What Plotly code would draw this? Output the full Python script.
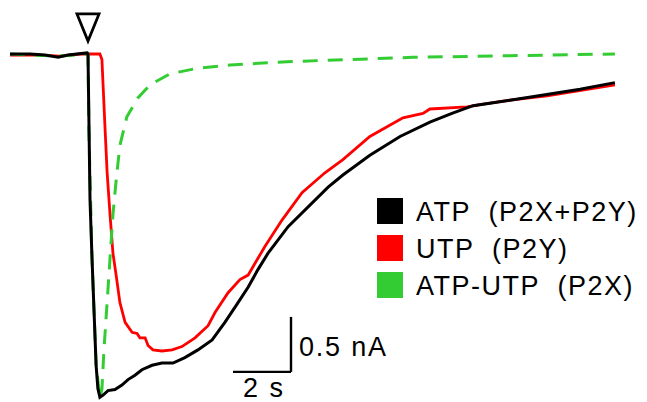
import plotly.graph_objects as go

# ---------------- data (time in s from ATP/UTP application, current in nA) ----------------
atp_t = [-2.69, -2.00, -1.48, -1.03, -0.69, -0.28, -0.03, 0.00, 0.03, 0.07, 0.14, 0.21, 0.28, 0.34,
         0.41, 0.52, 0.69, 0.93, 1.17, 1.38, 1.62, 1.86, 2.21, 2.55, 2.93, 3.34, 3.79, 4.28, 4.72,
         5.10, 5.52, 5.86, 6.21, 6.90, 7.59, 8.28, 8.79, 9.72, 10.76, 11.79, 12.55, 13.28, 14.55,
         15.83, 16.97, 18.17]
atp_i = [0.00, 0.00, -0.01, -0.03, -0.01, 0.00, 0.01, 0.00, -0.69, -1.33, -1.87, -2.42, -2.83, -3.04,
         -3.12, -3.10, -3.06, -3.05, -3.01, -2.96, -2.92, -2.87, -2.83, -2.81, -2.81, -2.76, -2.69,
         -2.60, -2.44, -2.29, -2.12, -1.96, -1.81, -1.57, -1.39, -1.21, -1.10, -0.92, -0.75, -0.62,
         -0.54, -0.47, -0.42, -0.37, -0.32, -0.26]

utp_t = [-2.69, -1.66, -0.97, -0.28, 0.41, 0.48, 0.59, 0.66, 0.76, 0.86, 0.97, 1.10, 1.28, 1.52,
         1.69, 1.79, 1.97, 2.07, 2.24, 2.55, 2.90, 3.24, 3.69, 4.14, 4.38, 4.83, 5.24, 5.52, 6.10,
         6.69, 7.38, 8.17, 8.79, 9.72, 10.86, 11.55, 11.79, 13.07, 13.52, 14.55, 15.83, 16.97, 18.17]
utp_i = [-0.01, -0.01, -0.02, 0.00, 0.00, -0.05, -0.69, -1.08, -1.46, -1.81, -2.01, -2.26, -2.44,
         -2.53, -2.54, -2.58, -2.58, -2.65, -2.69, -2.70, -2.69, -2.66, -2.58, -2.47, -2.35, -2.17,
         -2.05, -2.01, -1.75, -1.51, -1.26, -1.08, -0.96, -0.75, -0.58, -0.54, -0.50, -0.48, -0.46,
         -0.42, -0.38, -0.33, -0.28]

p2x_t = [-2.69, -1.03, 0.00, 0.03, 0.14, 0.28, 0.41, 0.48, 0.55, 0.66, 0.76, 0.86, 0.97, 1.10,
         1.34, 1.72, 2.14, 2.83, 3.76, 4.90, 6.86, 11.21, 18.17]
p2x_i = [0.00, -0.02, 0.00, -0.69, -1.87, -2.83, -3.12, -3.05, -2.69, -2.24, -1.87, -1.46, -1.15,
         -0.83, -0.57, -0.40, -0.28, -0.18, -0.13, -0.10, -0.07, -0.03, 0.00]

series_names = ["ATP  (P2X+P2Y)", "UTP  (P2Y)", "ATP-UTP  (P2X)"]
series_colors = ["#000000", "#ff0000", "#33cc33"]

stim_t = 0.0            # application time (open triangle)
scale_t_len = 2.0       # s
scale_i_len = 0.5       # nA
scale_corner = (7.0, -2.89)
scale_labels = ["0.5 nA", "2 s"]

# ---------------- layout geometry ----------------
W, H = 647, 402
x_range = [-3.0345, 19.2759]
y_range = [-3.1636, 0.4909]
FONT = "Liberation Sans, Arial, sans-serif"
FS = 27


def sp(txt, ls=2):
    return f'<span style="letter-spacing:{ls}px">{txt}</span>'


fig = go.Figure()
fig.add_trace(go.Scatter(x=utp_t, y=utp_i, mode="lines", name=series_names[1],
                         line=dict(color=series_colors[1], width=2.8)))
fig.add_trace(go.Scatter(x=p2x_t, y=p2x_i, mode="lines", name=series_names[2],
                         line=dict(color=series_colors[2], width=3, dash="15px,10px")))
fig.add_trace(go.Scatter(x=atp_t, y=atp_i, mode="lines", name=series_names[0],
                         line=dict(color=series_colors[0], width=3)))

shapes = []
# stimulus triangle
hw, top, tip = 0.38, 0.364, 0.118
shapes.append(dict(type="path", xref="x", yref="y",
                   path=f"M {stim_t-hw},{top} L {stim_t+hw},{top} L {stim_t},{tip} Z",
                   line=dict(color="black", width=2.8), fillcolor="rgba(0,0,0,0)"))
# scale bars
cx, cy = scale_corner
shapes.append(dict(type="line", xref="x", yref="y", x0=cx, x1=cx, y0=cy, y1=cy + scale_i_len,
                   line=dict(color="black", width=2.4)))
shapes.append(dict(type="line", xref="x", yref="y", x0=cx - scale_t_len, x1=cx, y0=cy, y1=cy,
                   line=dict(color="black", width=2.4)))

annotations = [
    dict(x=cx + 0.22, y=cy + scale_i_len * 0.45, xref="x", yref="y", text=sp(scale_labels[0], 1.8),
         showarrow=False, xanchor="left", yanchor="middle", font=dict(size=FS, family=FONT, color="black")),
    dict(x=cx - scale_t_len * 0.47, y=cy - 0.145, xref="x", yref="y", text=sp(scale_labels[1], 2),
         showarrow=False, xanchor="center", yanchor="middle", font=dict(size=FS, family=FONT, color="black")),
]

# custom legend (squares + labels)
leg_x0, leg_sq = 377, 26
leg_rows = [198, 235, 272]
for name, col, ry in zip(series_names, series_colors, leg_rows):
    shapes.append(dict(type="rect", xref="paper", yref="paper",
                       x0=leg_x0 / W, x1=(leg_x0 + leg_sq) / W,
                       y0=1 - (ry + leg_sq) / H, y1=1 - ry / H,
                       line=dict(width=0), fillcolor=col))
    annotations.append(dict(x=414 / W, y=1 - (ry + leg_sq / 2 + 1) / H, xref="paper", yref="paper",
                            text=sp(name, 1.5), showarrow=False, xanchor="left", yanchor="middle",
                            font=dict(size=FS, family=FONT, color="black")))

fig.update_layout(
    width=W, height=H,
    margin=dict(l=0, r=0, t=0, b=0),
    paper_bgcolor="white", plot_bgcolor="white",
    showlegend=False,
    xaxis=dict(range=x_range, visible=False, fixedrange=True),
    yaxis=dict(range=y_range, visible=False, fixedrange=True),
    shapes=shapes, annotations=annotations,
)

fig.write_html("out.html", config={"displayModeBar": False},
               post_script="document.body.style.margin='0px';")
